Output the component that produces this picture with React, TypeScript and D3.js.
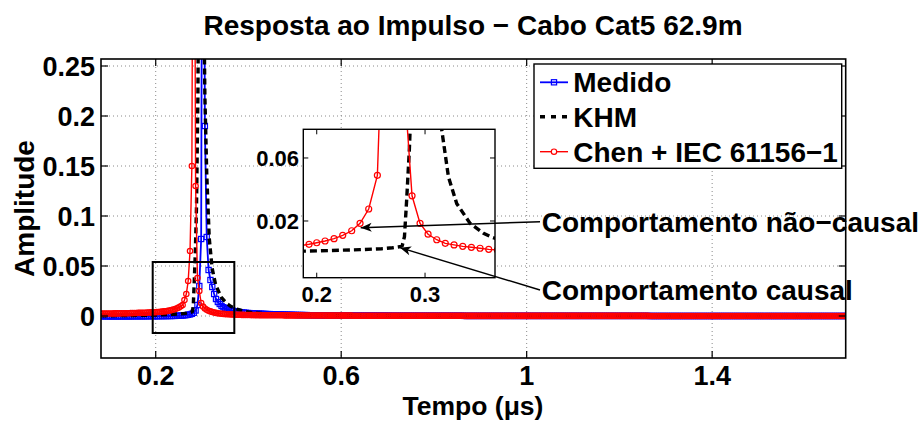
import React from 'react';
import * as d3 from 'd3';

// ---------- data ----------
// main series sampled on a uniform grid: t = T0 + i*DT (µs); values in units of 1e-4
const T0 = 0.082;
const DT = 0.004;
const VALUE_UNIT = 1e-4;

const medidoE4 = [
  -3,-3,-3,-3,-4,-4,-4,-4,-4,-4,
  -4,-4,-4,-4,-4,-4,-4,-3,-3,-3,
  -3,-3,-3,-3,-3,-2,-2,-2,-2,-2,
  -2,-2,-1,-1,-1,-1,0,0,0,1,
  1,2,3,4,5,7,9,12,16,22,
  32,55,110,300,770,8000,1900,790,460,360,
  290,220,170,140,120,100,88,78,70,63,
  57,52,48,44,41,38,36,34,32,
  30,29,28,27,26,25,24,23,22,21,
  20,19,19,18,17,17,16,15,15,14,
  14,13,13,12,12,11,11,10,10,10,
  9,9,9,8,8,8,8,7,7,7,7,6,
  5,5,5,5,5,4,4,4,4,4,4,4,4,4,4,
  3,3,3,3,3,3,3,3,3,3,3,3,3,3,3,3,3,3,3,3,
  2,2,2,2,2,2,2,2,2,2,2,2,2,2,2,2,2,2,2,2,
  2,2,2,2,2,2,2,2,2,2,2,2,2,2,2,2,2,2,2,2,
  1,1,1,1,1,1,1,1,1,1,1,1,1,1,1,1,1,1,1,1,1,1,1,1,1,
  1,1,1,1,1,1,1,1,1,1,1,1,1,1,1,1,1,1,1,1,1,1,1,1,1,
  1,1,1,1,1,1,1,1,1,1,1,1,1,1,1,1,1,1,1,1,1,1,1,1,1,
  1,1,1,1,1,1,1,1,1,1,1,1,1,1,1,1,1,1,1,1,1,1,1,1,1,
  0,0,0,0,0,0,0,0,0,0,0,0,0,0,0,0,0,0,0,0,
  0,0,0,0,0,0,0,0,0,0,0,0,0,0,0,0,0,0,0,0,
  0,0,0,0,0,0,0,0,0,0,0,0,0,0,0,0,0,0,0,0,
  0,0,0,0,0,0,0,0,0,0,0,0,0,0,0,0,0,0,0,0,
  0,0,0,0,0,0,0,0,0,0,0,0,0,0,0,0,0,0,0,0,
  0,0,0,0,0,0,0,0,0,0,
];

const chenE4 = [
  24,24,24,25,25,25,25,26,26,26,
  26,27,27,27,28,28,29,29,30,30,
  31,31,32,33,33,34,35,36,37,38,
  39,40,42,44,46,48,51,55,59,64,
  70,77,86,97,110,160,220,350,650,1500,
  7000,1300,380,250,130,95,75,62,53,46,
  40,35,31,28,25,23,21,19,18,17,
  16,15,14,13,12,12,11,11,10,
  10,10,9,9,9,9,8,8,8,8,
  7,7,7,7,7,7,7,7,7,7,
  6,6,6,6,6,6,6,6,6,6,
  5,5,5,5,5,5,5,5,5,5,5,5,
  4,4,4,4,4,4,4,4,4,4,4,4,4,4,4,
  3,3,3,3,3,3,3,3,3,3,3,3,3,3,3,3,3,3,3,3,
  2,2,2,2,2,2,2,2,2,2,2,2,2,2,2,2,2,2,2,2,
  2,2,2,2,2,2,2,2,2,2,2,2,2,2,2,2,2,2,2,2,
  1,1,1,1,1,1,1,1,1,1,1,1,1,1,1,1,1,1,1,1,1,1,1,1,1,
  1,1,1,1,1,1,1,1,1,1,1,1,1,1,1,1,1,1,1,1,1,1,1,1,1,
  1,1,1,1,1,1,1,1,1,1,1,1,1,1,1,1,1,1,1,1,1,1,1,1,1,
  1,1,1,1,1,1,1,1,1,1,1,1,1,1,1,1,1,1,1,1,1,1,1,1,1,
  0,0,0,0,0,0,0,0,0,0,0,0,0,0,0,0,0,0,0,0,
  0,0,0,0,0,0,0,0,0,0,0,0,0,0,0,0,0,0,0,0,
  0,0,0,0,0,0,0,0,0,0,0,0,0,0,0,0,0,0,0,0,
  0,0,0,0,0,0,0,0,0,0,0,0,0,0,0,0,0,0,0,0,
  0,0,0,0,0,0,0,0,0,0,0,0,0,0,0,0,0,0,0,0,
  0,0,0,0,0,0,0,0,0,0,
];

// KHM model (line only)
const khmT = [0.082, 0.15, 0.2, 0.24, 0.26, 0.27, 0.276, 0.279, 0.281, 0.283, 0.2855, 0.288, 0.291, 0.294, 0.297, 0.3, 0.303, 0.306, 0.31, 0.3154, 0.3216, 0.3293, 0.3416, 0.354, 0.3617, 0.375, 0.39, 0.41, 0.44, 0.48, 0.55, 0.65, 0.8, 1.0, 1.3, 1.688];
const khmV = [0.0002, 0.0005, 0.001, 0.0018, 0.0024, 0.003, 0.0036, 0.0045, 0.01, 0.033, 0.065, 0.11, 0.22, 0.45, 0.9, 0.6, 0.35, 0.22, 0.143, 0.078, 0.048, 0.031, 0.0185, 0.0122, 0.0097, 0.0068, 0.0048, 0.0032, 0.0021, 0.0013, 0.0008, 0.0005, 0.0003, 0.0002, 0.0001, 0.0001];

// Chen + IEC curve as shown in the zoomed inset
const insetChenT = [0.185, 0.1929, 0.2, 0.2077, 0.216, 0.224, 0.2323, 0.24, 0.248, 0.256, 0.264, 0.272, 0.28, 0.288, 0.2954, 0.3028, 0.3108, 0.3187, 0.3268, 0.3348, 0.3428, 0.3508, 0.3588, 0.3668];
const insetChenV = [0.0044, 0.0052, 0.0062, 0.0073, 0.0088, 0.0109, 0.0138, 0.0185, 0.0276, 0.049, 0.21, 0.6, 0.115, 0.036, 0.0185, 0.0116, 0.0081, 0.0058, 0.0048, 0.0039, 0.0033, 0.0027, 0.002, 0.0016];

const xTicks = [0.2, 0.6, 1, 1.4];
const yTicks = [0, 0.05, 0.1, 0.15, 0.2, 0.25];
const insetXTicks = [0.2, 0.3];
const insetYTicks = [0.02, 0.06];
const legendLabels = ['Medido', 'KHM', 'Chen + IEC 61156\u22121'];
const titleText = 'Resposta ao Impulso \u2212 Cabo Cat5 62.9m';
const xLabel = 'Tempo (\u03bcs)';
const yLabel = 'Amplitude';
const noteNonCausal = 'Comportamento não\u2212causal';
const noteCausal = 'Comportamento causal';
// zoom region (data coordinates)
const zoomBoxT = [0.1935, 0.3695];
const zoomBoxA = [-0.017, 0.054];

// ---------- layout ----------
const W = 923, H = 421;
const PL = 101, PR = 845.7, PT = 59, PB = 358;
const IL = 303.3, IR = 495, IT = 129.3, IB = 277.7;
const FONT = "'Liberation Sans', Arial, Helvetica, sans-serif";
const BLUE = '#0000ff', RED = '#ff0000';

type Pt = [number, number];

function arrowHead(x1: number, y1: number, x2: number, y2: number, len = 11, half = 4.5, notch = 3) {
  const dx = x2 - x1, dy = y2 - y1;
  const L = Math.hypot(dx, dy);
  const ux = dx / L, uy = dy / L;
  const px = -uy, py = ux;
  const bx = x2 - ux * len, by = y2 - uy * len;
  const nx = x2 - ux * (len - notch), ny = y2 - uy * (len - notch);
  return `M${x2},${y2}L${bx + px * half},${by + py * half}L${nx},${ny}L${bx - px * half},${by - py * half}Z`;
}

export default function App() {
  const x = d3.scaleLinear().domain([0.082, 1.688]).range([PL, PR]);
  const y = d3.scaleLinear().domain([-0.042, 0.257]).range([PB, PT]);
  const ix = d3.scaleLinear().domain([0.1876, 0.3646]).range([IL, IR]);
  const iy = d3.scaleLinear().domain([-0.016, 0.0782]).range([IB, IT]);

  const medido: Pt[] = medidoE4.map((v, i) => [T0 + i * DT, v * VALUE_UNIT]);
  const chen: Pt[] = chenE4.map((v, i) => [T0 + i * DT, v * VALUE_UNIT]);
  const khm: Pt[] = khmT.map((t, i) => [t, khmV[i]]);
  const insetChen: Pt[] = insetChenT.map((t, i) => [t, insetChenV[i]]);

  const mainLine = d3.line<Pt>().x(d => x(d[0])).y(d => y(d[1]));
  const insetLine = d3.line<Pt>().x(d => ix(d[0])).y(d => iy(d[1]));

  const SQ = 2.6;
  const CR = 2.7;
  const tick = 7;
  const itick = 5;

  const legendRows = [92.3, 126.7, 161.7];
  const lx0 = 540, lx1 = 568, lxm = 554;

  const a1 = { x1: 540, y1: 221.7, x2: 360.7, y2: 227.7 };
  const a2 = { x1: 540, y1: 290, x2: 400, y2: 247.7 };

  return (
    <svg width={W} height={H} style={{ position: 'absolute', left: 0, top: 0, background: '#fff' }}
      fontFamily={FONT} fontWeight="bold">
      <defs>
        <clipPath id="mainClip"><rect x={PL} y={PT} width={PR - PL} height={PB - PT} /></clipPath>
        <clipPath id="insetClip"><rect x={IL} y={IT} width={IR - IL} height={IB - IT} /></clipPath>
      </defs>
      <rect x={0} y={0} width={W} height={H} fill="#fff" />

      {/* grid */}
      <g stroke="#8a8a8a" strokeWidth={1} strokeDasharray="1,3">
        {xTicks.map(t => <line key={'gx' + t} x1={x(t)} x2={x(t)} y1={PT} y2={PB} />)}
        {yTicks.map(t => <line key={'gy' + t} x1={PL} x2={PR} y1={y(t)} y2={y(t)} />)}
      </g>

      {/* data */}
      <g clipPath="url(#mainClip)">
        <path d={mainLine(medido) || ''} fill="none" stroke={BLUE} strokeWidth={1.8} />
        {medido.map((d, i) => (
          <rect key={'m' + i} x={x(d[0]) - SQ} y={y(d[1]) - SQ} width={2 * SQ} height={2 * SQ}
            fill="none" stroke={BLUE} strokeWidth={1.2} />
        ))}
        <path d={mainLine(khm) || ''} fill="none" stroke="#000" strokeWidth={3.4} strokeDasharray="6,4" />
        <path d={mainLine(chen) || ''} fill="none" stroke={RED} strokeWidth={1.4} />
        {chen.map((d, i) => (
          <circle key={'c' + i} cx={x(d[0])} cy={y(d[1])} r={CR} fill="none" stroke={RED} strokeWidth={1.2} />
        ))}
      </g>

      {/* axes box + ticks */}
      <rect x={PL} y={PT} width={PR - PL} height={PB - PT} fill="none" stroke="#000" strokeWidth={1.6} />
      <g stroke="#000" strokeWidth={1.2}>
        {xTicks.map(t => (
          <g key={'tx' + t}>
            <line x1={x(t)} x2={x(t)} y1={PB} y2={PB - tick} />
            <line x1={x(t)} x2={x(t)} y1={PT} y2={PT + tick} />
          </g>
        ))}
        {yTicks.map(t => (
          <g key={'ty' + t}>
            <line x1={PL} x2={PL + tick} y1={y(t)} y2={y(t)} />
            <line x1={PR} x2={PR - tick} y1={y(t)} y2={y(t)} />
          </g>
        ))}
      </g>
      <g fontSize={27} fill="#000">
        {xTicks.map(t => (
          <text key={'lx' + t} x={x(t)} y={385} textAnchor="middle">{String(t)}</text>
        ))}
        {yTicks.map(t => (
          <text key={'ly' + t} x={95} y={y(t) + 9.5} textAnchor="end">{String(t)}</text>
        ))}
      </g>

      {/* zoom region box */}
      <rect x={x(zoomBoxT[0])} y={y(zoomBoxA[1])} width={x(zoomBoxT[1]) - x(zoomBoxT[0])}
        height={y(zoomBoxA[0]) - y(zoomBoxA[1])} fill="none" stroke="#000" strokeWidth={2} />

      {/* inset */}
      <rect x={IL} y={IT} width={IR - IL} height={IB - IT} fill="#fff" stroke="none" />
      <g clipPath="url(#insetClip)">
        <path d={insetLine(khm) || ''} fill="none" stroke="#000" strokeWidth={3.4} strokeDasharray="7,4" />
        <path d={insetLine(insetChen) || ''} fill="none" stroke={RED} strokeWidth={1.4} />
        {insetChen.map((d, i) => (
          <circle key={'ic' + i} cx={ix(d[0])} cy={iy(d[1])} r={3} fill="none" stroke={RED} strokeWidth={1.2} />
        ))}
      </g>
      <rect x={IL} y={IT} width={IR - IL} height={IB - IT} fill="none" stroke="#000" strokeWidth={1.4} />
      <g stroke="#000" strokeWidth={1}>
        {insetXTicks.map(t => (
          <g key={'itx' + t}>
            <line x1={ix(t)} x2={ix(t)} y1={IB} y2={IB - itick} />
            <line x1={ix(t)} x2={ix(t)} y1={IT} y2={IT + itick} />
          </g>
        ))}
        {insetYTicks.map(t => (
          <g key={'ity' + t}>
            <line x1={IL} x2={IL + itick} y1={iy(t)} y2={iy(t)} />
            <line x1={IR} x2={IR - itick} y1={iy(t)} y2={iy(t)} />
          </g>
        ))}
      </g>
      <g fontSize={22} fill="#000">
        {insetXTicks.map(t => (
          <text key={'ilx' + t} x={ix(t)} y={302} textAnchor="middle">{String(t)}</text>
        ))}
        {insetYTicks.map(t => (
          <text key={'ily' + t} x={299} y={iy(t) + 8} textAnchor="end">{String(t)}</text>
        ))}
      </g>

      {/* annotations */}
      <g stroke="#000" strokeWidth={1.4} fill="#000">
        <line x1={a1.x1} y1={a1.y1} x2={a1.x2} y2={a1.y2} />
        <path d={arrowHead(a1.x1, a1.y1, a1.x2, a1.y2)} stroke="none" />
        <line x1={a2.x1} y1={a2.y1} x2={a2.x2} y2={a2.y2} />
        <path d={arrowHead(a2.x1, a2.y1, a2.x2, a2.y2)} stroke="none" />
      </g>
      <text x={541.7} y={231.7} fontSize={28} fill="#000">{noteNonCausal}</text>
      <text x={541.7} y={300} fontSize={28} fill="#000">{noteCausal}</text>

      {/* legend */}
      <rect x={534} y={64} width={841.7 - 534} height={168.3 - 64} fill="#fff" stroke="#000" strokeWidth={1.4} />
      <line x1={lx0} x2={lx1} y1={legendRows[0] - 10} y2={legendRows[0] - 10} stroke={BLUE} strokeWidth={1.8} />
      <rect x={lxm - SQ} y={legendRows[0] - 10 - SQ} width={2 * SQ} height={2 * SQ} fill="none" stroke={BLUE} strokeWidth={1.2} />
      <line x1={lx0} x2={lx1} y1={legendRows[1] - 10} y2={legendRows[1] - 10} stroke="#000" strokeWidth={3.4} strokeDasharray="5,6" />
      <line x1={lx0} x2={lx1} y1={legendRows[2] - 10} y2={legendRows[2] - 10} stroke={RED} strokeWidth={1.4} />
      <circle cx={lxm} cy={legendRows[2] - 10} r={CR} fill="#fff" stroke={RED} strokeWidth={1.2} />
      {legendLabels.map((l, i) => (
        <text key={l} x={573.3} y={legendRows[i]} fontSize={28} fill="#000">{l}</text>
      ))}

      {/* titles */}
      <text x={473} y={35} fontSize={28} textAnchor="middle" fill="#000">{titleText}</text>
      <text x={473} y={415} fontSize={26.5} textAnchor="middle" fill="#000">{xLabel}</text>
      <text transform={`translate(34,208.5) rotate(-90)`} fontSize={28} textAnchor="middle" fill="#000">{yLabel}</text>
    </svg>
  );
}
